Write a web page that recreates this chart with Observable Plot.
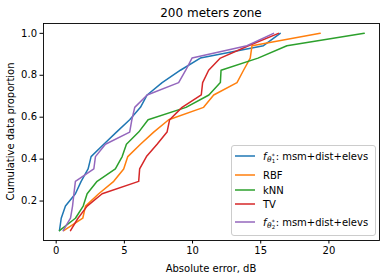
<!DOCTYPE html>
<html><head><meta charset="utf-8">
<script src="https://cdn.jsdelivr.net/npm/d3@7"></script>
<script src="https://cdn.jsdelivr.net/npm/@observablehq/plot@0.6"></script>
<style>
body{margin:0;background:#fff}
#chart svg{font-family:"DejaVu Sans",sans-serif;overflow:visible}
</style>
</head><body><div id="chart"></div>
<script>
// Cumulative proportions (17 samples)
const proportions = [0.059,0.118,0.176,0.235,0.294,0.353,0.412,0.471,0.529,0.588,0.647,0.706,0.765,0.824,0.882,0.941,1.0];
const seriesKeys = ["f1","RBF","kNN","TV","f2"];
const seriesColors = ["#1f77b4","#ff7f0e","#2ca02c","#d62728","#9467bd"];
// Sorted absolute errors (dB) per series
const errF1  = [0.24,0.37,0.68,1.41,1.83,2.34,2.56,3.49,4.42,5.39,6.18,6.67,7.77,9.11,10.57,15.2,16.43];
const errRBF = [0.55,1.95,2.15,3.12,4.22,4.95,5.25,6.18,7.15,8.25,10.81,11.55,13.26,13.74,14.23,14.36,19.36];
const errKNN = [0.24,1.41,1.98,2.27,3.0,4.34,4.84,5.15,6.05,6.74,9.52,11.2,12.04,12.09,14.8,16.92,22.59];
const errTV  = [1.05,1.6,2.27,3.37,6.05,6.12,6.62,7.4,8.13,8.32,9.23,10.64,10.74,11.18,12.04,14.1,16.3];
const errF2  = [0.51,1.05,1.2,1.3,1.41,2.76,2.88,3.61,5.39,5.55,5.76,6.67,8.98,9.5,9.96,13.99,15.94];
const xTicks = [0,5,10,15,20];
const yTicks = [0.2,0.4,0.6,0.8,1.0];

const allErr = [errF1, errRBF, errKNN, errTV, errF2];
const rows = [];
seriesKeys.forEach((k, i) => allErr[i].forEach((e, j) => rows.push({series: k, err: e, p: proportions[j]})));

const NS = "http://www.w3.org/2000/svg";
function el(name, attrs, parent) {
  const e = document.createElementNS(NS, name);
  for (const k in attrs) e.setAttribute(k, attrs[k]);
  if (parent) parent.appendChild(e);
  return e;
}

function annotations(index, scales, values, dims) {
  const g = el("g", {});
  const left = dims.marginLeft, right = dims.width - dims.marginRight;
  const top = dims.marginTop, bottom = dims.height - dims.marginBottom;
  const cx = (left + right) / 2;
  el("text", {x: cx, y: 17, "text-anchor": "middle", "font-size": 12, fill: "#000"}, g).textContent = "200 meters zone";
  el("text", {x: cx, y: 272, "text-anchor": "middle", "font-size": 10, fill: "#000"}, g).textContent = "Absolute error, dB";
  el("text", {transform: `translate(13.5,${(top + bottom) / 2}) rotate(-90)`, "text-anchor": "middle", "font-size": 10, fill: "#000"}, g).textContent = "Cumulative data proportion";

  // Legend (lower right)
  const lg = el("g", {}, g);
  el("rect", {x: 231.5, y: 145.5, width: 144, height: 90, rx: 2.5, fill: "#fff", "fill-opacity": 0.8, stroke: "#cccccc", "stroke-width": 1}, lg);
  const entryY = [156, 175, 190, 204, 222];
  seriesKeys.forEach((key, i) => {
    const y = entryY[i];
    el("line", {x1: 235, x2: 255, y1: y, y2: y, stroke: seriesColors[i], "stroke-width": 1.5}, lg);
    const t = el("text", {x: 263, y: y + 3.5, "font-size": 10, fill: "#000", "text-anchor": "start"}, lg);
    if (key === "f1" || key === "f2") {
      const n = key === "f1" ? "1" : "2";
      const add = (attrs, txt) => { el("tspan", attrs, t).textContent = txt; };
      add({"font-style": "italic"}, "f");
      add({dy: 2, dx: 0.5, "font-size": 7.5, "font-style": "italic"}, "θ");
      add({dy: 1.5, "font-size": 5.5}, n);
      add({dy: -5, dx: -3.3, "font-size": 6}, "*");
      add({dy: 1.5, dx: 0.8, "font-size": 10}, ": msm+dist+elevs");
    } else {
      t.textContent = key;
    }
  });
  return g;
}

const W = 386, H = 278;
const chart = Plot.plot({
  width: W, height: H,
  marginLeft: 43, marginRight: 7, marginTop: 23, marginBottom: 38,
  style: {fontFamily: "DejaVu Sans, sans-serif", fontSize: "10px", color: "#000", background: "#fff"},
  x: {domain: [-0.93, 23.71]},
  y: {domain: [0.0118, 1.047]},
  color: {domain: seriesKeys, range: seriesColors},
  marks: [
    Plot.line(rows, {x: "err", y: "p", z: "series", stroke: "series", strokeWidth: 1.5, strokeLinejoin: "round"}),
    Plot.frame({stroke: "#000", strokeWidth: 0.9}),
    Plot.axisX({ticks: xTicks, tickSize: 3.5, tickPadding: 3, label: null, tickFormat: d => d, fontSize: 10}),
    Plot.axisY({ticks: yTicks, tickSize: 3.5, tickPadding: 3, label: null, tickFormat: d3.format(".1f"), fontSize: 10}),
    annotations
  ]
});
document.getElementById("chart").appendChild(chart);
</script>
</body></html>
